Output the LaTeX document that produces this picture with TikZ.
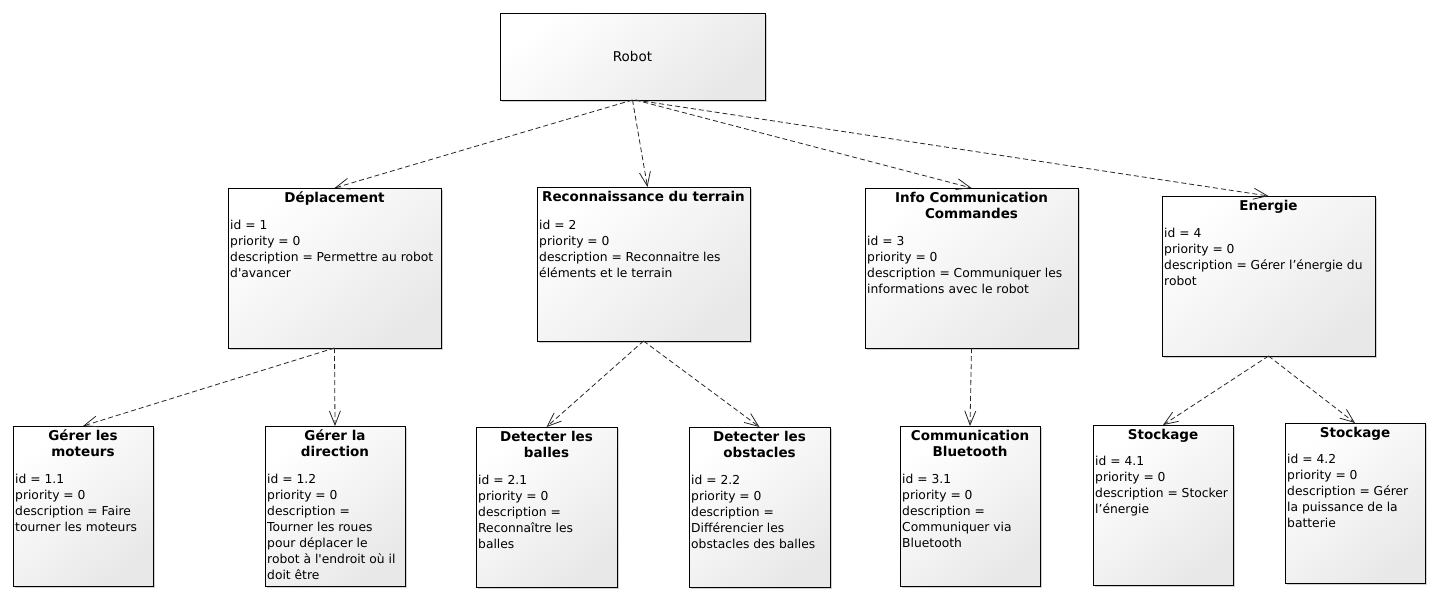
\documentclass[tikz,border=0pt]{standalone}
\usepackage{fontspec}
\setmainfont{DejaVu Sans}
\usetikzlibrary{arrows.meta,shadows}
\tikzset{
  reqbox/.style={draw=black, line width=0.9pt, rectangle, inner sep=0pt, outer sep=0pt,
    anchor=north west, top color=white, bottom color=black!9, shading angle=40,
    drop shadow={shadow xshift=2pt, shadow yshift=-2pt, fill=black, opacity=0.18}},
  reqtitle/.style={anchor=north, inner sep=0pt, align=center,
    font=\fontsize{13.5}{16}\selectfont\bfseries},
  reqbody/.style={anchor=north west, inner sep=0pt, align=left,
    font=\fontsize{12.3}{16}\selectfont},
  dep/.style={draw=black!85, line width=0.8pt, dash pattern=on 5pt off 3pt,
    -{Straight Barb[length=14pt,width=11pt,line width=0.8pt]}}
}
\newcommand\reqbox[8]{%
  \node[reqbox, minimum width=#4pt, minimum height=#5pt] (#1) at (#2,#3) {};
  \node[reqtitle] (#1-title) at (#1.north) {\rule{0pt}{14pt}#6};
  \node[reqbody] (#1-body) at ([xshift=2pt,yshift=-#7pt]#1.north west) {\rule{0pt}{12pt}#8};
}
\begin{document}
\begin{tikzpicture}[x=1pt,y=-1pt]
\useasboundingbox (0,0) rectangle (1440,603);
\node[reqbox, minimum width=265pt, minimum height=87pt,
  font=\fontsize{13.5}{16}\selectfont, align=center] (robot) at (500,13) {Robot};

\reqbox{dpl}{228}{188}{213}{160}{Déplacement}{29}{id = 1\\priority = 0\\description = Permettre au robot\\d\textquotesingle avancer}
\reqbox{rec}{537}{187}{213}{154}{Reconnaissance du terrain}{30}{id = 2\\priority = 0\\description = Reconnaitre les\\éléments et le terrain}
\reqbox{info}{865}{188}{213}{160}{Info Communication\\Commandes}{45}{id = 3\\priority = 0\\description = Communiquer les\\informations avec le robot}
\reqbox{ene}{1162}{196}{213}{160}{Energie}{29}{id = 4\\priority = 0\\description = Gérer l’énergie du\\robot}

\reqbox{mot}{13}{426}{140}{160}{Gérer les\\moteurs}{45}{id = 1.1\\priority = 0\\description = Faire\\tourner les moteurs}
\reqbox{dir}{265}{426}{140}{160}{Gérer la\\direction}{45}{id = 1.2\\priority = 0\\description =\\Tourner les roues\\pour déplacer le\\robot à l\textquotesingle endroit où il\\doit être}
\reqbox{bal}{476}{427}{141}{160}{Detecter les\\balles}{45}{id = 2.1\\priority = 0\\description =\\Reconnaître les\\balles}
\reqbox{obs}{689}{427}{141}{160}{Detecter les\\obstacles}{45}{id = 2.2\\priority = 0\\description =\\Différencier les\\obstacles des balles}
\reqbox{blu}{900}{426}{140}{160}{Communication\\Bluetooth}{45}{id = 3.1\\priority = 0\\description =\\Communiquer via\\Bluetooth}
\reqbox{st1}{1093}{425}{140}{160}{Stockage}{28}{id = 4.1\\priority = 0\\description = Stocker\\l’énergie}
\reqbox{st2}{1285}{423}{140}{160}{Stockage}{28}{id = 4.2\\priority = 0\\description = Gérer\\la puissance de la\\batterie}

\draw[dep] (robot.south) -- (dpl.north);
\draw[dep] (robot.south) -- ([xshift=4pt]rec.north);
\draw[dep] ([xshift=3pt]robot.south) -- (info.north);
\draw[dep] ([xshift=3pt]robot.south) -- (ene.north);
\draw[dep] (dpl.south) -- (mot.north);
\draw[dep] (dpl.south) -- (dir.north);
\draw[dep] (rec.south) -- (bal.north);
\draw[dep] (rec.south) -- (obs.north);
\draw[dep] (info.south) -- (blu.north);
\draw[dep] (ene.south) -- (st1.north);
\draw[dep] (ene.south) -- (st2.north);
\end{tikzpicture}
\end{document}
